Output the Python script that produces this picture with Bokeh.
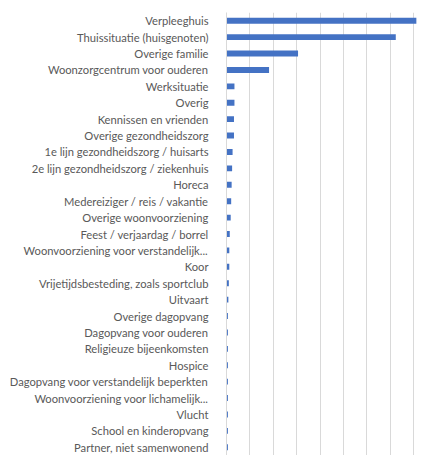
from bokeh.plotting import figure
from bokeh.models import FactorRange, Range1d, SingleIntervalTicker, ColumnDataSource
from bokeh.embed import file_html
from bokeh.resources import INLINE

categories = [
    "Verpleeghuis",
    "Thuissituatie (huisgenoten)",
    "Overige familie",
    "Woonzorgcentrum voor ouderen",
    "Werksituatie",
    "Overig",
    "Kennissen en vrienden",
    "Overige gezondheidszorg",
    "1e lijn gezondheidszorg / huisarts",
    "2e lijn gezondheidszorg / ziekenhuis",
    "Horeca",
    "Medereiziger / reis / vakantie",
    "Overige woonvoorziening",
    "Feest / verjaardag / borrel",
    "Woonvoorziening voor verstandelijk...",
    "Koor",
    "Vrijetijdsbesteding, zoals sportclub",
    "Uitvaart",
    "Overige dagopvang",
    "Dagopvang voor ouderen",
    "Religieuze bijeenkomsten",
    "Hospice",
    "Dagopvang voor verstandelijk beperkten",
    "Woonvoorziening voor lichamelijk...",
    "Vlucht",
    "School en kinderopvang",
    "Partner, niet samenwonend",
]
values = [406, 362, 153, 91, 17, 17, 16, 16, 13, 12, 11, 10, 9,
          7, 6, 6, 5, 4, 3, 3, 3, 3, 3, 3, 3, 3, 3]

source = ColumnDataSource(data=dict(cat=categories, val=values))

p = figure(
    width=421, height=455,
    y_range=FactorRange(factors=list(reversed(categories))),
    x_range=Range1d(0, 417),
    output_backend="svg", toolbar_location=None,
    min_border_left=226, min_border_right=0,
    min_border_top=12, min_border_bottom=0,
)
p.hbar(y="cat", left=0, right="val", height=0.36, source=source,
       fill_color="#4472C4", line_color=None)

p.xaxis.ticker = SingleIntervalTicker(interval=50)
p.xaxis.visible = False
p.xgrid.grid_line_color = "#d9d9d9"
p.ygrid.grid_line_color = None
p.outline_line_color = None

ya = p.yaxis[0]
ya.axis_line_color = "#d9d9d9"
ya.major_tick_line_color = None
ya.minor_tick_line_color = None
ya.major_label_text_font = "Lato"
ya.major_label_text_font_size = "11.2px"
ya.major_label_text_color = "#595959"
ya.major_label_standoff = 12

open("out.html", "w").write(file_html(p, INLINE))
